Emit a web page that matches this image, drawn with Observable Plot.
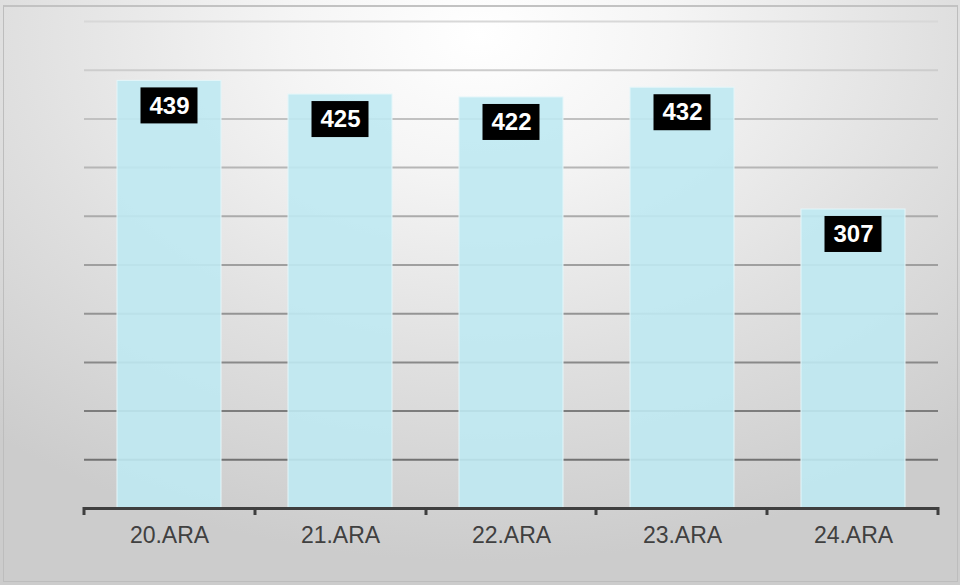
<!DOCTYPE html>
<html>
<head>
<meta charset="utf-8">
<script src="https://cdn.jsdelivr.net/npm/d3@7"></script>
<script src="https://cdn.jsdelivr.net/npm/@observablehq/plot@0.6"></script>
<style>
  html, body { margin: 0; padding: 0; width: 960px; height: 585px; overflow: hidden; }
  body {
    position: relative;
    background: radial-gradient(ellipse 78% 90% at 50% 6%, #ffffff 0%, #f5f5f5 25%, #e0e0e0 62%, #cccccc 100%);
  }
  #frame {
    position: absolute; left: 3px; top: 5px; width: 953px; height: 574px;
    border: 1px solid #bdbdbd; border-top: 2px solid #c2c2c2; pointer-events: none;
  }
  #chart { position: absolute; left: 0; top: 0; }
  #chart svg { display: block; }
</style>
</head>
<body>
<div id="chart"></div>
<div id="frame"></div>
<script>
const categories = ["20.ARA", "21.ARA", "22.ARA", "23.ARA", "24.ARA"];
const values = [439, 425, 422, 432, 307];
const gridTicks = [50, 100, 150, 200, 250, 300, 350, 400, 450, 500];

const data = categories.map((cat, i) => ({cat, value: values[i]}));
const gridColor = d3.scaleLinear().domain([50, 500]).range(["#727272", "#d8d8d8"]);

// label boxes behind value labels
const labelBoxes = (index, scales) => {
  const {x, y} = scales;
  const g = d3.create("svg:g");
  for (const d of data) {
    g.append("rect")
      .attr("x", x(d.cat) + x.bandwidth() / 2 - 28.5)
      .attr("y", y(d.value) + 7)
      .attr("width", 57)
      .attr("height", 36)
      .attr("fill", "#000000");
  }
  return g.node();
};

// tick marks at category boundaries
const boundaryTicks = (index, scales, values, dims) => {
  const {y} = scales;
  const x0 = dims.marginLeft, x1 = dims.width - dims.marginRight;
  const step = (x1 - x0) / categories.length;
  const y0 = y(0);
  const g = d3.create("svg:g").attr("stroke", "#3f3f3f").attr("stroke-width", 3);
  for (let i = 0; i <= categories.length; i++) {
    const xi = Math.round(x0 + i * step);
    g.append("line").attr("x1", xi).attr("x2", xi).attr("y1", y0 - 1).attr("y2", y0 + 7);
  }
  return g.node();
};

const plot = Plot.plot({
  width: 960,
  height: 585,
  marginLeft: 84,
  marginRight: 22,
  marginTop: 21,
  marginBottom: 77,
  style: {background: "transparent", fontFamily: "'Liberation Sans', Arial, sans-serif"},
  x: {domain: categories, paddingInner: 0.39, paddingOuter: 0.19, label: null},
  y: {domain: [0, 500], axis: null},
  color: {type: "identity"},
  marks: [
    Plot.ruleY(gridTicks, {stroke: d => gridColor(d), strokeWidth: 2}),
    Plot.barY(data, {x: "cat", y: "value", fill: "#bfe9f2", fillOpacity: 0.9, stroke: "#e4f6f9", strokeWidth: 1}),
    Plot.ruleY([0], {stroke: "#3f3f3f", strokeWidth: 3}),
    boundaryTicks,
    Plot.axisX({tickSize: 0, tickPadding: 18, fontSize: 23, fill: "#404040"}),
    labelBoxes,
    Plot.text(data, {x: "cat", y: "value", text: d => String(d.value), dy: 25, fill: "#ffffff", fontSize: 24, fontWeight: "bold"})
  ]
});
document.getElementById("chart").appendChild(plot);
</script>
</body>
</html>
